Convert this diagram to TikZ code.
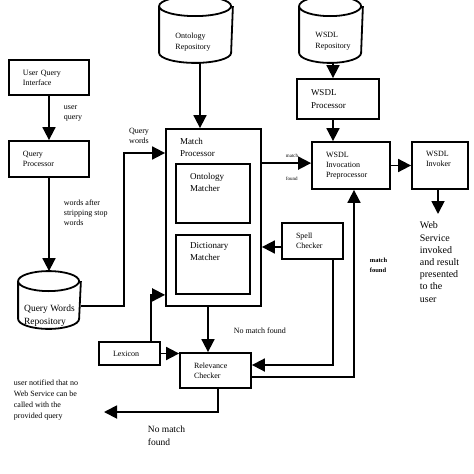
\documentclass[tikz,border=0pt]{standalone}
\usepackage{fontspec}
\setmainfont{Liberation Serif}
\usetikzlibrary{arrows.meta}
\begin{document}
\begin{tikzpicture}[x=1pt,y=-1pt,line width=1.8pt,
	arrow/.style={-{Triangle[length=13pt,width=13pt]}},
	box/.style={draw,rectangle,inner xsep=14pt,inner ysep=0pt,align=left,font=\fontsize{8}{10}\selectfont},
	repo/.style={rectangle,inner sep=0pt},
	lbl/.style={inner sep=0pt,align=left,font=\fontsize{8}{10}\selectfont},
	head/.style={lbl,anchor=north west,font=\fontsize{9}{12}\selectfont}]
	\useasboundingbox (0,0) rectangle (474,474);
	% stores
	\node[repo,minimum width=72pt,minimum height=65pt,label={[lbl,font=\fontsize{8}{11}\selectfont,xshift=-3pt,yshift=-13pt]center:Ontology\\Repository}] (onto) at (196,29.5) {};
	\node[repo,minimum width=62pt,minimum height=65pt,label={[lbl,font=\fontsize{8}{11.5}\selectfont,xshift=2pt,yshift=-11.5pt]center:WSDL\\Repository}] (wrepo) at (331,29.5) {};
	\node[repo,minimum width=61pt,minimum height=56pt,label={[lbl,font=\fontsize{9.5}{12.5}\selectfont,yshift=-15.5pt]center:Query Words\\Repository}] (qwr) at (49.5,300) {};
	\foreach \n/\r in {onto/36,wrepo/31,qwr/30.5}
	\draw ([yshift=-10pt]\n.north west) arc[start angle=180,end angle=540,x radius=\r pt,y radius=10pt]
		-- ([yshift=10pt]\n.south west) arc[start angle=180,end angle=360,x radius=\r pt,y radius=10pt]
		-- ([yshift=-10pt]\n.north east);
	% boxes
	\node[box,text width=52pt,minimum height=35pt] (uqi) at (49,77.5) {User Query\\Interface};
	\node[box,text width=52pt,minimum height=36pt] (qp) at (49,159) {Query\\Processor};
	\node[box,text width=54pt,minimum height=40pt,font=\fontsize{9}{13}\selectfont] (wp) at (338,99) {WSDL\\Processor};
	\node[box,text width=50pt,minimum height=47pt] (wip) at (351,165.5) {WSDL\\Invocation\\Preprocessor};
	\node[box,minimum width=56pt,minimum height=47pt,label={[head,font=\fontsize{8}{10}\selectfont,xshift=14pt,yshift=-9pt]north west:WSDL\\Invoker}] (winv) at (440,165.5) {};
	\node[box,minimum width=95pt,minimum height=177pt,label={[head,xshift=14pt,yshift=-9pt]north west:Match\\Processor}] (mp) at (213.5,217.5) {};
	\node[box,minimum width=74pt,minimum height=59pt,label={[head,xshift=14pt,yshift=-9pt]north west:Ontology\\Matcher}] (om) at (213,193.5) {};
	\node[box,minimum width=74pt,minimum height=59pt,label={[head,xshift=14pt,yshift=-8pt]north west:Dictionary\\Matcher}] (dm) at (213,264.5) {};
	\node[box,text width=33pt,minimum height=36pt] (sc) at (312.5,241) {Spell\\Checker};
	\node[box,text width=33pt,minimum height=23pt] (lex) at (129.5,353.5) {Lexicon};
	\node[box,text width=43pt,minimum height=35pt] (rc) at (215.5,370.5) {Relevance\\Checker};
	% free texts
	\node[lbl,anchor=north west,font=\fontsize{10}{12.2}\selectfont] (wsout) at (419,221) {Web\\Service\\invoked\\and result\\presented\\to the\\user};
	\node[lbl,anchor=north west,font=\fontsize{8}{11}\selectfont] (un) at (13,379) {user notified that no\\Web Service can be\\called with the\\provided query};
	\coordinate (qw) at (124,153);
	\coordinate (nm) at (104,412);
	% connectors
	\draw[arrow] (uqi) -- (qp);
	\draw[arrow] (qp) -- (qp|-qwr.north);
	\draw[arrow] ([yshift=-6pt]qwr.east) -| (qw) -- (qw-|mp.west);
	\draw[arrow] ([xshift=4pt]onto.south) -- ([xshift=4pt]onto.south|-mp.north);
	\draw[arrow] ([xshift=2pt]wrepo.south) -- ([xshift=2pt]wrepo.south|-wp.north);
	\draw[arrow] ([xshift=2pt]wrepo.south|-wp.south) -- ([xshift=2pt]wrepo.south|-wip.north);
	\draw[arrow] (mp.east|-om.north) -- (wip.west|-om.north);
	\draw[arrow] (wip) -- (winv);
	\draw[arrow,shorten >=7pt] ([xshift=-2pt]winv.south) -- ([xshift=-2pt]winv.south|-wsout.north);
	\draw[arrow] ([yshift=-6pt]sc.west) -- ([yshift=-6pt]sc.west-|mp.east);
	\draw[arrow] ([xshift=20.5pt]sc.south) |- ([yshift=5.5pt]rc.east);
	\draw[arrow] ([yshift=-6.5pt]rc.east) -| ([xshift=3pt]wip.south);
	\draw[arrow] ([xshift=-5.5pt]mp.south) -- ([xshift=-5.5pt]mp.south|-rc.north);
	\draw[arrow] (lex.east) -- (lex.east-|rc.west);
	\draw[arrow] ([xshift=21.5pt]lex.north) |- (mp.west|-dm.south);
	\draw[arrow] ([xshift=2.5pt]rc.south) |- (nm);
	% connector labels
	\node[lbl,anchor=north west] at (63,105) {user\\query};
	\node[lbl,anchor=north west] at (63,199) {words after\\stripping stop\\words};
	\node[lbl,anchor=north,align=center] at (139,127) {Query\\words};
	\node[lbl,anchor=west,font=\fontsize{5}{6}\selectfont] at (285,156) {match};
	\node[lbl,anchor=west,font=\fontsize{5}{6}\selectfont] at (285,179) {found};
	\node[lbl,anchor=north west,font=\fontsize{6.5}{10}\selectfont\bfseries] at (369,257) {match\\found};
	\node[lbl,anchor=west] at (233,331) {No match found};
	\node[lbl,anchor=north west,font=\fontsize{9.5}{13}\selectfont] at (147,425) {No match\\found};
\end{tikzpicture}
\end{document}
